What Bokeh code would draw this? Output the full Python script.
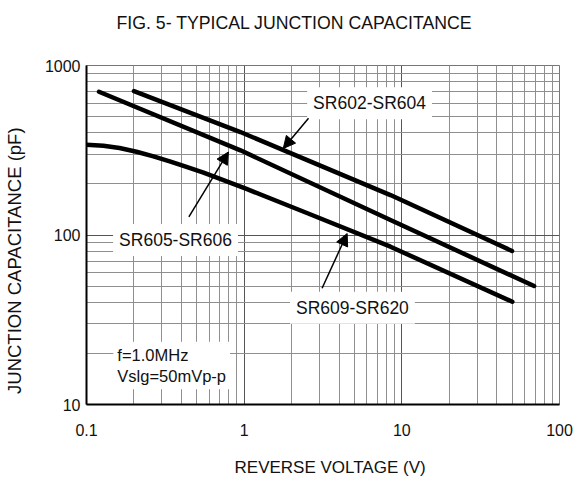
from bokeh.plotting import figure
from bokeh.models import (Range1d, FixedTicker, BasicTickFormatter, Label, Arrow,
                          NormalHead, Title)
from bokeh.embed import file_html
from bokeh.resources import INLINE

FONT = "Liberation Sans"
NB = "\u00a0"

# ---- data ----
x_ticks = [0.1, 1, 10, 100]
y_ticks = [10, 100, 1000]

sr602_v = [0.2, 0.947, 8.47, 50]
sr602_c = [706, 405, 172, 80.5]

sr605_v = [0.12, 0.947, 8.47, 69]
sr605_c = [700, 316, 122.5, 50]

sr609_v = [0.1, 0.128, 0.162, 0.2075, 0.266, 0.341, 0.4306, 0.552, 0.697, 1.034, 2.5, 8.47, 50.2]
sr609_c = [341, 336, 326, 310, 291, 271, 252, 233, 215, 187, 134.8, 85.3, 40.4]

x_minor = [m * d for d in [0.1, 1, 10] for m in range(2, 10)]
y_minor = [m * d for d in [10, 100] for m in range(2, 10)]

p = figure(width=573, height=479, x_axis_type="log", y_axis_type="log",
           x_range=Range1d(0.1, 100), y_range=Range1d(10, 1000),
           output_backend="svg", toolbar_location=None,
           min_border_left=86, min_border_right=14, min_border_top=65,
           min_border_bottom=74)

title = Title(text="FIG. 5- TYPICAL JUNCTION CAPACITANCE\n ", align="left",
              offset=30, text_font=FONT, text_font_size="17.7px",
              text_font_style="normal", text_color="#111", standoff=17,
              text_line_height=1.2, vertical_align="bottom")
p.add_layout(title, "above")

p.outline_line_color = "#777"
p.outline_line_width = 1

for ax, ticks, minor in [(p.xaxis[0], x_ticks, x_minor), (p.yaxis[0], y_ticks, y_minor)]:
    ax.ticker = FixedTicker(ticks=ticks, minor_ticks=minor)
    ax.formatter = BasicTickFormatter()
    ax.major_tick_in = 0
    ax.major_tick_out = 0
    ax.minor_tick_in = 0
    ax.minor_tick_out = 0
    ax.axis_line_color = "black"
    ax.axis_line_width = 2
    ax.major_label_text_font = FONT
    ax.major_label_text_color = "#111"
    ax.axis_label_text_font = FONT
    ax.axis_label_text_font_style = "normal"
    ax.axis_label_text_color = "#111"

p.xaxis.axis_label = NB * 3 + "REVERSE VOLTAGE (V)"
p.xaxis.major_label_text_font_size = "16px"
p.xaxis.axis_label_text_font_size = "17px"
p.xaxis.major_label_standoff = 19
p.xaxis.axis_label_standoff = 19

p.yaxis.axis_label = "JUNCTION CAPACITANCE (pF)" + NB * 10
p.yaxis.major_label_text_font_size = "16px"
p.yaxis.axis_label_text_font_size = "18.5px"
p.yaxis.major_label_standoff = 6
p.yaxis.axis_label_standoff = 17

for g in (p.xgrid[0], p.ygrid[0]):
    g.grid_line_color = "#555"
    g.grid_line_width = 1
    g.minor_grid_line_color = "#8f8f8f"
    g.minor_grid_line_width = 1
p.xgrid.ticker = p.xaxis[0].ticker
p.ygrid.ticker = p.yaxis[0].ticker

for xs, ys in [(sr602_v, sr602_c), (sr605_v, sr605_c), (sr609_v, sr609_c)]:
    p.line(xs, ys, line_color="black", line_width=4.5, line_cap="round", line_join="round")

labels = [
    ("SR602-SR604", 6.24, 598),
    ("SR605-SR606", 0.367, 93.5),
    ("SR609-SR620", 4.86, 37.2),
]
for txt, lx, ly in labels:
    p.add_layout(Label(x=lx, y=ly, text=txt, text_align="center", text_baseline="middle",
                       text_font=FONT, text_font_size="17.5px", text_color="#111",
                       background_fill_color="white", background_fill_alpha=1.0,
                       padding=6))

p.add_layout(Label(x=0.148, y=17.0, text="f=1.0MHz\nVslg=50mVp-p", text_align="left",
                   text_baseline="middle", text_font=FONT, text_font_size="16.5px",
                   text_color="#111", background_fill_color="white",
                   background_fill_alpha=1.0, padding=4))

arrows = [
    (2.56, 488, 1.77, 324),
    (0.446, 128, 0.795, 309),
    (3.12, 48.5, 4.5, 102),
]
for xs0, ys0, xe, ye in arrows:
    p.add_layout(Arrow(end=NormalHead(size=12, fill_color="black", line_color="black"),
                       x_start=xs0, y_start=ys0, x_end=xe, y_end=ye,
                       line_color="black", line_width=1.5))

open("out.html", "w").write(file_html(p, INLINE))
